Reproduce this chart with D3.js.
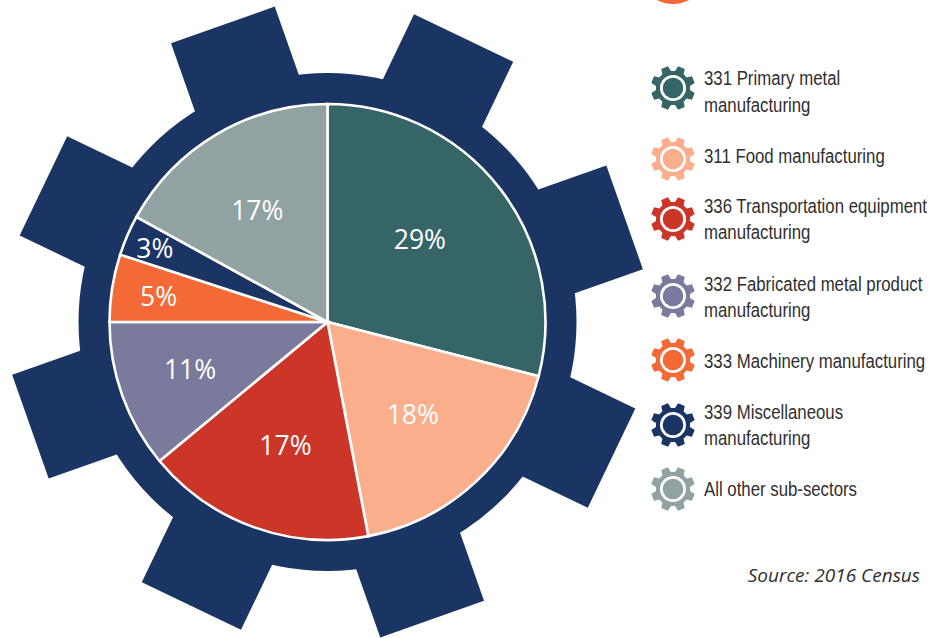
<!DOCTYPE html>
<html>
<head>
<meta charset="utf-8">
<script src="https://cdn.jsdelivr.net/npm/d3@7/dist/d3.min.js"></script>
<style>
html,body{margin:0;padding:0;background:#fff;overflow:hidden}
svg{display:block}
</style>
</head>
<body>
<svg id="chart" width="929" height="638"></svg>
<script>
const categories = [
  "331 Primary metal manufacturing",
  "311 Food manufacturing",
  "336 Transportation equipment manufacturing",
  "332 Fabricated metal product manufacturing",
  "333 Machinery manufacturing",
  "339 Miscellaneous manufacturing",
  "All other sub-sectors"
];
const shares = [29, 18, 17, 11, 5, 3, 17];
const colours = ["#356566", "#fbae8b", "#cb3628", "#7a7a9d", "#f46a37", "#1a3564", "#90a2a2"];
const legendLines = [
  ["331 Primary metal", "manufacturing"],
  ["311 Food manufacturing"],
  ["336 Transportation equipment", "manufacturing"],
  ["332 Fabricated metal product", "manufacturing"],
  ["333 Machinery manufacturing"],
  ["339 Miscellaneous", "manufacturing"],
  ["All other sub-sectors"]
];
const source = "Source: 2016 Census";

// layout (not data)
const cx = 327.5, cy = 322, R = 218, ringR = 249, toothR = 315, toothW = 110;
const toothCount = 8, toothStart = 25.6;
const labelRadius = [122, 126, 130, 145, 170, 187, 132];
const labelShift = [[-4, -8], [-1, 1], [2, 1], [-1, -2], [-1, 1], [-1, 1], [-3, 2]];
const legendGearY = [88, 159, 219, 296, 360, 425, 489];
const legendTextY = [[78, 105], [156], [206, 232], [284, 310], [361], [412, 438], [489]];
const croppedMark = {y: -30, r: 34, colour: "#f46a37"};
const navy = "#1a3564";

const svg = d3.select("#chart");
const big = svg.append("g").attr("transform", `translate(${cx},${cy})`);

// cog body
big.append("circle").attr("r", ringR).attr("fill", navy);
big.selectAll("rect.tooth").data(d3.range(toothCount)).join("rect")
  .attr("class", "tooth")
  .attr("x", -toothW / 2).attr("y", -toothR)
  .attr("width", toothW).attr("height", toothR - R)
  .attr("fill", navy)
  .attr("transform", i => `rotate(${toothStart + i * 360 / toothCount})`);

// pie
const pie = d3.pie().sort(null).value(d => d);
const arcs = pie(shares);
const arc = d3.arc().innerRadius(0).outerRadius(R);
big.selectAll("path.slice").data(arcs).join("path")
  .attr("class", "slice")
  .attr("d", arc)
  .attr("fill", (d, i) => colours[i])
  .attr("stroke", "#fff").attr("stroke-width", 2.6).attr("stroke-linejoin", "miter");

// slice labels
big.selectAll("text.pct").data(arcs).join("text")
  .attr("class", "pct")
  .attr("transform", (d, i) => {
    const a = (d.startAngle + d.endAngle) / 2, r = labelRadius[i];
    return `translate(${r * Math.sin(a) + labelShift[i][0]},${-r * Math.cos(a) + labelShift[i][1]})`;
  })
  .attr("text-anchor", "middle").attr("dy", "0.36em")
  .attr("font-family", "'Open Sans', sans-serif").attr("font-size", 26.5).attr("font-weight", 400)
  .attr("fill", "#fff")
  .text(d => d.data + "%");

// legend cogs
const gearPath = (() => {
  const ro = 22, rb = 16.5, pts = [];
  const hw = 4.6, tw = 3.6;
  for (let i = 0; i < 8; i++) {
    const a = (22.5 + i * 45) * Math.PI / 180;
    const ux = Math.sin(a), uy = -Math.cos(a), vx = Math.cos(a), vy = Math.sin(a);
    pts.push([ux * rb - vx * hw, uy * rb - vy * hw]);
    pts.push([ux * ro - vx * tw, uy * ro - vy * tw]);
    pts.push([ux * ro + vx * tw, uy * ro + vy * tw]);
    pts.push([ux * rb + vx * hw, uy * rb + vy * hw]);
  }
  return d3.line()(pts) + "Z";
})();

function drawGear(g, colour) {
  g.append("path").attr("d", gearPath).attr("fill", colour);
  g.append("circle").attr("r", 17).attr("fill", colour);
  g.append("circle").attr("r", 13).attr("fill", "#fff");
  g.append("circle").attr("r", 10.3).attr("fill", colour);
}

// mark cut off by the top edge of the reference
svg.append("circle").attr("cx", 673).attr("cy", croppedMark.y).attr("r", croppedMark.r).attr("fill", croppedMark.colour);

categories.forEach((c, i) => {
  drawGear(svg.append("g").attr("transform", `translate(673,${legendGearY[i]})`), colours[i]);
  legendLines[i].forEach((t, j) => {
    svg.append("text")
      .attr("transform", `translate(704,${legendTextY[i][j]}) scale(0.8,1)`)
      .attr("dy", "0.35em")
      .attr("font-family", "'Liberation Sans', sans-serif")
      .attr("font-size", 21).attr("fill", "#2f2f2f")
      .text(t);
  });
});

svg.append("text")
  .attr("x", 920).attr("y", 582).attr("text-anchor", "end")
  .attr("font-family", "'Open Sans', sans-serif").attr("font-style", "italic")
  .attr("font-size", 19).attr("fill", "#2f2f2f")
  .text(source);
</script>
</body>
</html>
